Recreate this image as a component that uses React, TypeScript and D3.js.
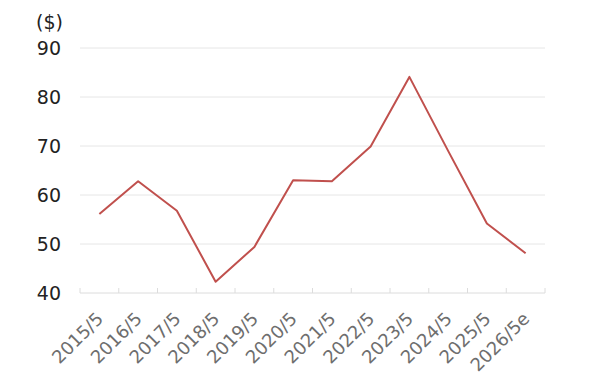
import React from "react";
import * as d3 from "d3";

const categories = ["2015/5", "2016/5", "2017/5", "2018/5", "2019/5", "2020/5", "2021/5", "2022/5", "2023/5", "2024/5", "2025/5", "2026/5e"];
const values = [56.1, 62.8, 56.8, 42.3, 49.4, 63.0, 62.8, 69.9, 84.1, 69.0, 54.2, 48.1];
const yTicks = [40, 50, 60, 70, 80, 90];
const unitLabel = "($)";

export default function App() {
  const W = 600, H = 390;
  const left = 80, right = 545, top = 48, bottom = 293;
  const x = d3.scaleBand<string>().domain(categories).range([left, right]).padding(0);
  const y = d3.scaleLinear().domain([40, 90]).range([bottom, top]);
  const line = d3.line<number>()
    .x((_, i) => (x(categories[i]) as number) + x.bandwidth() / 2)
    .y((d) => y(d));
  const font = "'DejaVu Sans', Verdana, sans-serif";
  const tickXs = categories.map((c) => x(c) as number).concat([right]);
  return (
    <svg width={W} height={H} style={{ position: "absolute", left: 0, top: 0, background: "#fff" }}>
      {yTicks.map((t) => (
        <g key={t}>
          <line x1={left} x2={right} y1={y(t)} y2={y(t)} stroke={t === 40 ? "#dcdcdc" : "#e6e6e6"} strokeWidth={1} />
          <text x={61} y={y(t)} dy="0.36em" textAnchor="end" fontFamily={font} fontSize={19} fill="#222">{t}</text>
        </g>
      ))}
      {tickXs.map((tx, i) => (
        <line key={i} x1={tx} x2={tx} y1={bottom - 5} y2={bottom} stroke="#dcdcdc" strokeWidth={1} />
      ))}
      <text x={63} y={29} textAnchor="end" fontFamily={font} fontSize={19} fill="#222">{unitLabel}</text>
      <path d={line(values) || ""} fill="none" stroke="#c0504d" strokeWidth={2} strokeLinejoin="round" />
      {categories.map((c) => {
        const cx = (x(c) as number) + x.bandwidth() / 2;
        return (
          <text key={c} transform={`translate(${cx + 5},${bottom + 27}) rotate(-45)`} textAnchor="end"
            fontFamily={font} fontSize={18} fill="#6e6e6e">{c}</text>
        );
      })}
    </svg>
  );
}
